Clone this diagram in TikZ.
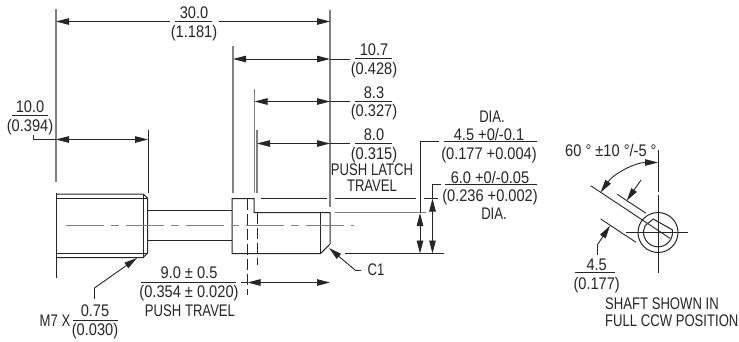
\documentclass[tikz,border=0pt]{standalone}
\usepackage{fontspec}
\setmainfont[FakeStretch=0.78]{Liberation Sans}
\newfontfamily\numfam[FakeStretch=0.87]{Liberation Sans}
\usetikzlibrary{arrows.meta}
\definecolor{ink}{HTML}{262626}
\definecolor{ext}{HTML}{808080}
\tikzset{
  tx/.style={inner sep=0pt,text=ink,font=\fontsize{16.8pt}{17pt}\selectfont},
  nx/.style={inner sep=0pt,text=ink,font=\numfam\fontsize{16.8pt}{17pt}\selectfont},
  obj/.style={draw=ink,line width=1pt},
  thin obj/.style={draw=ink,line width=0.9pt},
  extl/.style={draw=ext,line width=1.1pt},
  diml/.style={draw=ink,line width=0.9pt},
  bar/.style={draw=ink,line width=0.9pt},
  center line/.style={draw=ext,line width=0.9pt,dash pattern=on 38pt off 7pt on 8pt off 7pt},
  hid/.style={draw=ink,line width=0.9pt,dash pattern=on 11pt off 4pt},
  arr/.style={-{Triangle[length=13pt,width=6.5pt]}},
  arr2/.style={{Triangle[length=13pt,width=6.5pt]}-{Triangle[length=13pt,width=6.5pt]}},
}
\begin{document}
\begin{tikzpicture}[x=1pt,y=-1pt]
\useasboundingbox (0,0) rectangle (739,341);
\fill[white] (0,0) rectangle (739,341);
% extension lines
\draw[extl] (56,9) -- (56,182);
\draw[extl] (330,10) -- (330,207);
\draw[extl] (233,46) -- (233,193);
\draw[extl] (254.5,89) -- (254.5,193);
\draw[extl] (257,130) -- (257,193);
\draw[diml] (148,130) -- (148,193);
\draw[extl] (335,212.5) -- (426,212.5);
\draw[diml] (261,198.5) -- (327,198.5);
\draw[diml] (335,198.5) -- (415.5,198.5);
\draw[diml] (424,198.5) -- (438,198.5);
\draw[diml] (345,253.5) -- (444,253.5);
% thread
\draw[obj] (56,193) -- (56,278);
\draw[obj] (56,194) -- (143,194) -- (147.5,198) -- (147.5,253) -- (143,257.7) -- (56,257.7);
\draw[obj] (56,198.5) -- (147.5,198.5);
\draw[obj] (56,253.5) -- (147.5,253.5);
\draw[thin obj] (143,194) -- (143,257.7);
% shaft
\draw[obj] (147.5,210.5) -- (232,210.5);
\draw[obj] (147.5,240.5) -- (232,240.5);
% knob
\draw[obj] (232,253.5) -- (232,198.5) -- (254,198.5) -- (254,212.5) -- (330,212.5) -- (330,244) -- (320.7,253.5) -- cycle;
\draw[obj] (320.7,212.5) -- (320.7,253.5);
\draw[hid] (247.5,198.5) -- (247.5,295);
\draw[hid] (257,212.5) -- (257,265);
\draw[center line] (66,225.5) -- (354,225.5);
% dimension 30.0
\node[nx] (a1) at (194,13) {30.0};
\node[nx] (a2) at (194,33) {(1.181)};
\draw[bar] (175,21.5) -- (212,21.5);
\draw[diml,arr] (170,21.5) -- (56,21.5);
\draw[diml,arr] (219,21.5) -- (330,21.5);
% 10.7
\node[nx] (b1) at (374,50) {10.7};
\node[nx] (b2) at (374,70) {(0.428)};
\draw[bar] (355,58.5) -- (392,58.5);
\draw[diml,arr2] (233,59) -- (330,59);
\draw[diml] (330,59) -- (350,59);
% 8.3
\node[nx] (c1) at (374,93) {8.3};
\node[nx] (c2) at (374,112) {(0.327)};
\draw[bar] (355,101.5) -- (392,101.5);
\draw[diml,arr2] (254.5,101.5) -- (330,101.5);
\draw[diml] (330,101.5) -- (350,101.5);
% 8.0
\node[nx] (d1) at (374,135) {8.0};
\node[nx] (d2) at (374,155) {(0.315)};
\draw[bar] (355,143.5) -- (392,143.5);
\draw[diml,arr2] (257,143.5) -- (330,143.5);
\draw[diml] (330,143.5) -- (350,143.5);
\node[tx] (d3) at (372,170) {PUSH LATCH};
\node[tx] (d4) at (372,186) {TRAVEL};
% 10.0
\node[nx] (e1) at (30,107) {10.0};
\node[nx] (e2) at (30,127) {(0.394)};
\draw[bar] (12,115.5) -- (48,115.5);
\draw[diml] (33.5,135) -- (33.5,139.5) -- (56,139.5);
\draw[diml,arr2] (56,139.5) -- (148,139.5);
% diameters
\node[tx] (f1) at (492,117) {DIA.};
\node[nx] (f2) at (489,134) {4.5 +0/-0.1};
\node[nx] (f3) at (489,155) {(0.177 +0.004)};
\draw[bar] (444,141.5) -- (537,141.5);
\node[nx] (g1) at (490,177) {6.0 +0/-0.05};
\node[nx] (g2) at (490,197) {(0.236 +0.002)};
\node[tx] (g3) at (494,214) {DIA.};
\draw[bar] (445,184.5) -- (537,184.5);
\draw[diml] (439,141.5) -- (420,141.5) -- (420,213);
\draw[diml,arr] (420,232) -- (420,213);
\draw[diml,arr] (420,232) -- (420,253.5);
\draw[diml] (441,184.5) -- (432.5,184.5) -- (432.5,198);
\draw[diml,arr] (432.5,225) -- (432.5,198.5);
\draw[diml,arr] (432.5,225) -- (432.5,253.5);
% M7
\node[tx,anchor=east] (h0) at (70.5,321) {M7 X};
\node[nx] (h1) at (95,311) {0.75};
\node[nx] (h2) at (95,331) {(0.030)};
\draw[bar] (73,320.5) -- (118,320.5);
\draw[diml] (94.5,299) -- (94.5,288);
\draw[diml,arr] (94.5,288) -- (137,258);
% 9.0
\node[nx] (i1) at (189,273) {9.0 ± 0.5};
\node[nx] (i2) at (189,293) {(0.354 ± 0.020)};
\node[tx] (i3) at (190,311) {PUSH TRAVEL};
\draw[bar] (141,282.5) -- (236,282.5);
\draw[diml] (241,282.5) -- (247.5,282.5);
\draw[diml,arr2] (247.5,282.5) -- (330,282.5);
% C1
\node[tx] (j1) at (376,270) {C1};
\draw[diml] (361,270) -- (355,270);
\draw[diml,arr] (355,270) -- (329,248);
% end view
\draw[diml] (658,150) -- (658,192);
\draw[diml] (658,195) -- (658,273);
\draw[diml] (626,232.5) -- (688,232.5);
\draw[obj] (658,232.5) circle[radius=20pt];
\draw[obj] (672.3,229.8) arc[start angle=10,end angle=-208,radius=14.5pt] -- (653.3,219) -- cycle;
\draw[thin obj] (590.7,185.7) -- (670,238.3);
\draw[thin obj] (617.3,194.3) -- (646,213.3);
\draw[thin obj] (600.7,219) -- (636,242.3);
\draw[diml,arr] (641,180) -- (626.7,200.7);
\draw[diml] (597.3,255) -- (597.3,245);
\draw[diml,arr] (597.3,245) -- (610,225.7);
\draw[diml,arr2] (658,162.5) arc[start angle=90,end angle=145,radius=70pt];
\node[nx,anchor=west] (k1) at (565,150.7) {60 ° ±10 °/-5 °};
\node[nx] (k2) at (596.7,265) {4.5};
\node[nx] (k3) at (596.7,285) {(0.177)};
\draw[bar] (575,272.5) -- (615,272.5);
\node[tx,anchor=west] (k4) at (605,304) {SHAFT SHOWN IN};
\node[tx,anchor=west] (k5) at (605,320.7) {FULL CCW POSITION};
\end{tikzpicture}
\end{document}
